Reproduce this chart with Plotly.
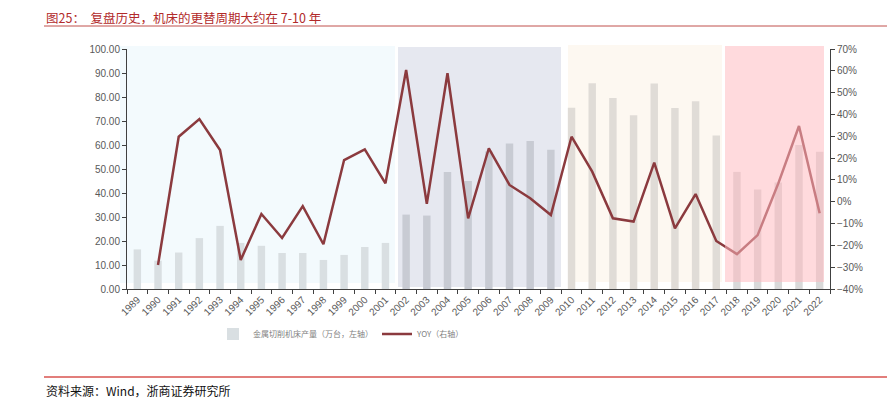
import plotly.graph_objects as go

years = [str(y) for y in range(1989, 2023)]
production = [16.5, 11.8, 15.2, 21.2, 26.3, 19.2, 18.0, 15.0, 15.0, 12.1,
              14.2, 17.5, 19.2, 31.0, 30.6, 48.8, 45.0, 57.3, 60.6, 61.7,
              58.0, 75.5, 85.7, 79.6, 72.4, 85.6, 75.4, 78.2, 64.0, 48.8,
              41.5, 44.4, 60.0, 57.2]
yoy_pct = [None, -29.0, 29.8, 37.9, 23.7, -26.7, -5.6, -16.6, -2.0, -19.5,
           19.1, 24.0, 8.4, 60.4, -1.0, 58.9, -7.6, 24.5, 7.7, 1.6,
           -6.1, 29.8, 13.8, -7.6, -9.1, 17.9, -12.2, 3.5, -18.0, -24.0,
           -15.3, 8.4, 34.7, -5.3]
left_ticks = [0, 10, 20, 30, 40, 50, 60, 70, 80, 90, 100]
right_ticks = [-0.4, -0.3, -0.2, -0.1, 0, 0.1, 0.2, 0.3, 0.4, 0.5, 0.6, 0.7]

title_text = "图25：  复盘历史，机床的更替周期大约在 7-10 年"
source_text = "资料来源：Wind，浙商证券研究所"
bar_name = "金属切削机床产量（万台，左轴）"
line_name = "YOY（右轴）"

# style: bar colour by background period
def bar_color(y):
    y = int(y)
    if y <= 2001:
        return "#d9dfe2"
    if y <= 2009:
        return "#c8cbd3"
    if y <= 2017:
        return "#e0dcd7"
    return "#d9d9d9"

bar_colors = [bar_color(y) for y in years]
yoy = [None if v is None else v / 100 for v in yoy_pct]

# the page body has an 8px default margin; work in page pixels and convert
OFF = 8
W, H = 895 - OFF, 398 - OFF
L, T = 127 - OFF, 49 - OFF
R = W - (830 - OFF)
B = H - (289 - OFF)
pw, ph = W - L - R, H - T - B

def px(x):
    return (x - OFF - L) / pw

def py(y):
    return (H - B - (y - OFF)) / ph

fig = go.Figure()
fig.add_trace(go.Bar(x=years, y=production, name=bar_name,
                     marker=dict(color=bar_colors, line=dict(width=0)),
                     yaxis="y", legend="legend"))
fig.add_trace(go.Scatter(x=years, y=yoy, name=line_name, mode="lines",
                         line=dict(color="#8b3a3e", width=2.5),
                         yaxis="y2", legend="legend2"))

shapes = []
def rect(x0, x1, y0, y1, color, layer="below", opacity=1):
    shapes.append(dict(type="rect", xref="paper", yref="paper",
                       x0=px(x0), x1=px(x1), y0=py(y1), y1=py(y0),
                       fillcolor=color, line=dict(width=0),
                       layer=layer, opacity=opacity))

rect(120, 395, 46, 283, "#f3fafd")
rect(398, 561, 47, 287, "#e6e8f0")
rect(568, 722, 45, 282, "#fdf8f1")
rect(725, 824, 46, 282, "#ffb9bf", layer="above", opacity=0.53)

shapes.append(dict(type="line", xref="paper", yref="paper",
                   x0=px(44), x1=px(895), y0=py(26), y1=py(26),
                   line=dict(color="#c0504d", width=1)))
shapes.append(dict(type="line", xref="paper", yref="paper",
                   x0=px(44), x1=px(895), y0=py(377), y1=py(377),
                   line=dict(color="#d9534f", width=1.5)))

annotations = [
    dict(text=title_text, xref="paper", yref="paper", x=px(44), y=py(17),
         xanchor="left", yanchor="middle", showarrow=False,
         font=dict(family="Noto Sans CJK SC", size=12.5, color="#b22a2a")),
    dict(text=source_text, xref="paper", yref="paper", x=px(44), y=py(390),
         xanchor="left", yanchor="middle", showarrow=False,
         font=dict(family="Noto Sans CJK SC", size=12, color="#111111")),
]

axis_font = dict(family="Liberation Sans, Arial", size=10, color="#595959")
legend_font = dict(family="Noto Sans CJK SC", size=8, color="#7f7f7f")

fig.update_layout(
    width=W, height=H,
    margin=dict(l=L, r=R, t=T, b=B, autoexpand=False),
    paper_bgcolor="white", plot_bgcolor="rgba(0,0,0,0)",
    bargap=0.64,
    showlegend=True,
    legend=dict(orientation="h", xref="container", yref="container",
                x=(213 - OFF) / W, y=1 - (334 - OFF) / H, xanchor="left",
                yanchor="middle", font=legend_font,
                bgcolor="rgba(0,0,0,0)"),
    legend2=dict(orientation="h", xref="container", yref="container",
                 x=(377 - OFF) / W, y=1 - (334 - OFF) / H, xanchor="left",
                 yanchor="middle", font=legend_font,
                 bgcolor="rgba(0,0,0,0)"),
    xaxis=dict(type="category", tickangle=-45, tickson="boundaries",
               ticks="outside", ticklen=4, tickcolor="#404040",
               showline=True, linecolor="#404040", linewidth=1,
               showgrid=False, tickfont=axis_font, fixedrange=True,
               automargin=False),
    yaxis=dict(range=[0, 100], tickvals=left_ticks, tickformat=".2f",
               ticks="outside", ticklen=4, tickcolor="#404040",
               showline=True, linecolor="#404040", linewidth=1,
               showgrid=False, zeroline=False, tickfont=axis_font,
               automargin=False),
    yaxis2=dict(range=[-0.4, 0.7], tickvals=right_ticks, tickformat=".0%",
                overlaying="y", side="right",
                ticks="outside", ticklen=4, tickcolor="#404040",
                showline=True, linecolor="#404040", linewidth=1,
                showgrid=False, zeroline=False, tickfont=axis_font,
                automargin=False),
    shapes=shapes,
    annotations=annotations,
)

fig.write_html("out.html")
